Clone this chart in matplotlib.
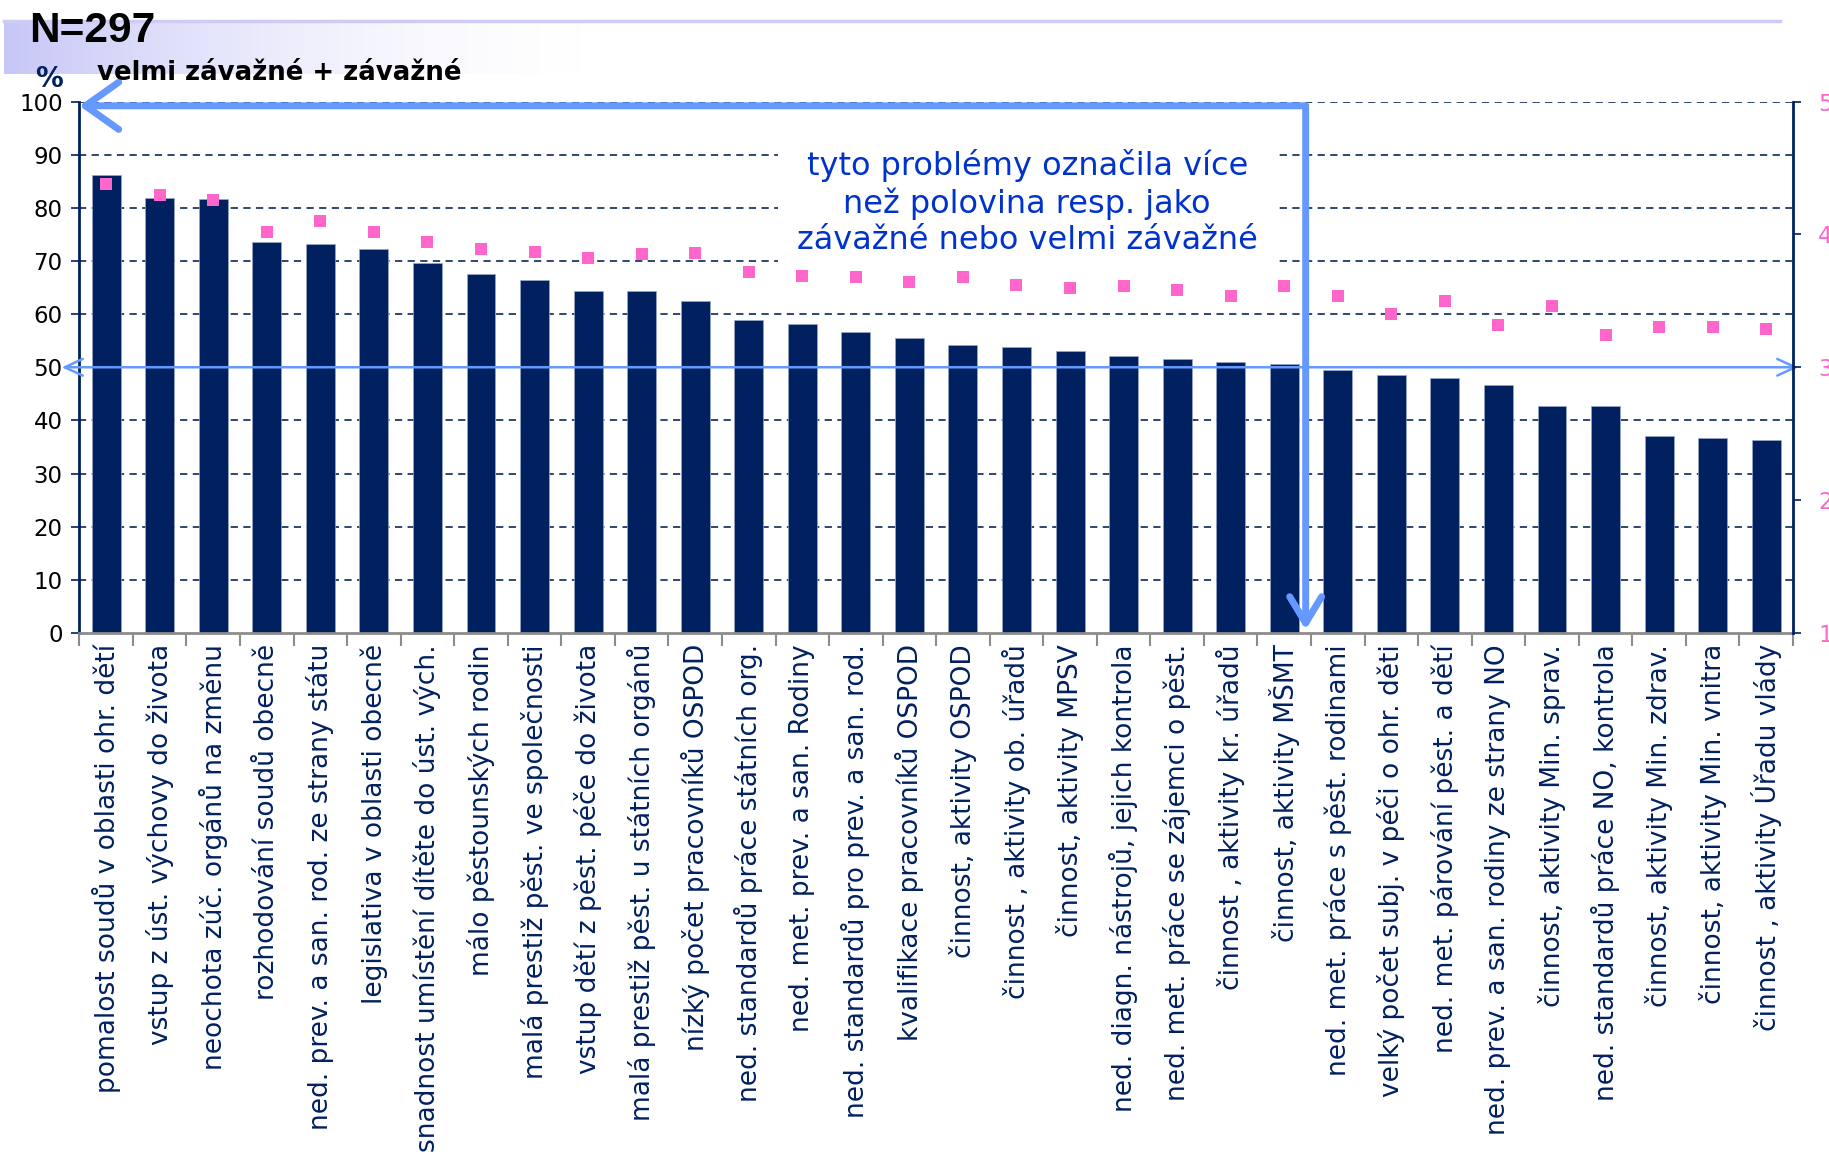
import matplotlib.pyplot as plt
import numpy as np

# --- data ---
categories = [
    'pomalost soudů v oblasti ohr. dětí',
    'vstup z úst. výchovy do života',
    'neochota zúč. orgánů na změnu',
    'rozhodování soudů obecně',
    'ned. prev. a san. rod. ze strany státu',
    'legislativa v oblasti obecně',
    'snadnost umístění dítěte do úst. vých.',
    'málo pěstounských rodin',
    'malá prestiž pěst. ve společnosti',
    'vstup dětí z pěst. péče do života',
    'malá prestiž pěst. u státních orgánů',
    'nízký počet pracovníků OSPOD',
    'ned. standardů práce státních org.',
    'ned. met. prev. a san. Rodiny',
    'ned. standardů pro prev. a san. rod.',
    'kvalifikace pracovníků OSPOD',
    'činnost, aktivity OSPOD',
    'činnost , aktivity ob. úřadů',
    'činnost, aktivity MPSV',
    'ned. diagn. nástrojů, jejich kontrola',
    'ned. met. práce se zájemci o pěst.',
    'činnost , aktivity kr. úřadů',
    'činnost, aktivity MŠMT',
    'ned. met. práce s pěst. rodinami',
    'velký počet subj. v péči o ohr. děti',
    'ned. met. párování pěst. a dětí',
    'ned. prev. a san. rodiny ze strany NO',
    'činnost, aktivity Min. sprav.',
    'ned. standardů práce NO, kontrola',
    'činnost, aktivity Min. zdrav.',
    'činnost, aktivity Min. vnitra',
    'činnost , aktivity Úřadu vlády',
]

# % "velmi závažné + závažné" (left axis)
pct_serious = [86.1, 81.9, 81.6, 73.5, 73.2, 72.3, 69.6, 67.5, 66.5, 64.4, 64.4,
               62.4, 58.8, 58.2, 56.7, 55.5, 54.2, 53.9, 53.1, 52.2, 51.6, 50.9,
               50.6, 49.4, 48.5, 47.9, 46.6, 42.7, 42.7, 37.0, 36.7, 36.4]

# mean score 1-5 (right axis)
mean_score = [4.38, 4.30, 4.26, 4.02, 4.10, 4.02, 3.94, 3.89, 3.87, 3.82, 3.85,
              3.86, 3.72, 3.69, 3.68, 3.64, 3.68, 3.62, 3.60, 3.61, 3.58, 3.54,
              3.61, 3.54, 3.40, 3.50, 3.32, 3.46, 3.24, 3.30, 3.30, 3.29]

left_ticks = list(range(0, 101, 10))
right_ticks = [1, 2, 3, 4, 5]

# --- colours ---
navy = '#002060'
pink = '#FF66CC'
arrow_blue = '#6699FF'
note_blue = '#0033CC'
grey = '#8C8C8C'

fig = plt.figure(figsize=(18.29, 11.58), dpi=100, facecolor='white')

# header band with fading purple
band = fig.add_axes([0.002, 0.936, 0.6, 0.046])
grad = np.clip(1 - np.linspace(0, 1, 600) / 0.55, 0, 1) ** 1.8
rgba = np.zeros((1, 600, 4))
rgba[..., 0] = 0.78
rgba[..., 1] = 0.78
rgba[..., 2] = 0.97
rgba[..., 3] = grad
band.imshow(rgba, aspect='auto', extent=[0, 1, 0, 1])
band.axis('off')
fig.add_artist(plt.Line2D([0.002, 0.973], [0.982, 0.982], color='#CCCCF5', lw=2.5))

fig.text(0.016, 0.9637, 'N=297', family='Liberation Sans', fontweight='bold',
         fontsize=30.5, color='black', va='baseline')
fig.text(0.027, 0.925, '%', fontweight='bold', fontsize=20, color=navy,
         ha='center', va='baseline')
fig.text(0.053, 0.931, 'velmi závažné + závažné', fontweight='bold',
         fontsize=18.7, color='black', va='baseline')

ax = fig.add_axes([0.0434, 0.4534, 0.9369, 0.4589])
x = np.arange(len(categories))

ax.set_axisbelow(True)
for v in left_ticks[1:]:
    if v == 50:
        continue
    ax.axhline(v, color='#1F3864', lw=1.3, ls=(0, (4, 3)), zorder=0.5)

ax.bar(x, pct_serious, width=0.54, color=navy, edgecolor='#9AA8C8',
       linewidth=0.5, zorder=2)

ax.set_xlim(-0.5, len(categories) - 0.5)
ax.set_ylim(0, 100)
ax.set_yticks(left_ticks)
ax.tick_params(axis='y', labelsize=16.5, colors='black', length=6, width=1.2,
               pad=6)
ax.tick_params(axis='y', color=navy)
ax.set_xticks(x)
ax.set_xticklabels(categories, rotation=90, fontsize=19, color=navy)
ax.set_xticks(np.arange(-0.5, len(categories)), minor=True)
ax.tick_params(axis='x', which='major', length=0, pad=8)
ax.tick_params(axis='x', which='minor', length=9, width=1.5, color=grey)

ax.spines['top'].set_visible(False)
ax.spines['right'].set_visible(False)
ax.spines['left'].set_color(navy)
ax.spines['left'].set_linewidth(2)
ax.spines['bottom'].set_color(grey)
ax.spines['bottom'].set_linewidth(2)

# right axis: mean score
ax2 = ax.twinx()
ax2.set_ylim(1, 5)
ax2.set_yticks(right_ticks)
ax2.tick_params(axis='y', labelsize=16.5, labelcolor=pink, color=navy,
                length=6, width=1.2, pad=12)
for s in ['top', 'left', 'bottom']:
    ax2.spines[s].set_visible(False)
ax2.spines['right'].set_color(navy)
ax2.spines['right'].set_linewidth(2)
ax2.plot(x, mean_score, ls='none', marker='s', ms=9, color=pink,
         markeredgewidth=0, zorder=4)

# 50 % reference line with arrowheads
ax.annotate('', xy=(-0.83, 50), xytext=(31.6, 50),
            arrowprops=dict(arrowstyle='<->,head_length=1.3,head_width=0.6',
                            color=arrow_blue, lw=1.8, shrinkA=0, shrinkB=0),
            annotation_clip=False, zorder=3)

# note
ax.text(17.2, 81, 'tyto problémy označila více\nnež polovina resp. jako\n'
        'závažné nebo velmi závažné', ha='center', va='center', fontsize=23,
        linespacing=1.2, color=note_blue, zorder=3,
        bbox=dict(boxstyle='square,pad=0.6', fc='white', ec='none'))

# big bracket arrow
corner = (22.4, 99.2)
left_kw = dict(arrowstyle='->,head_length=2.4,head_width=1.7', color=arrow_blue,
               lw=5, shrinkA=0, shrinkB=0, capstyle='round', joinstyle='round')
down_kw = dict(arrowstyle='->,head_length=1.9,head_width=1.15', color=arrow_blue,
               lw=5, shrinkA=0, shrinkB=0, capstyle='round', joinstyle='round')
ax.annotate('', xy=(-0.5, 99.2), xytext=corner, arrowprops=left_kw,
            annotation_clip=False, zorder=5)
ax.annotate('', xy=(22.4, 0.6), xytext=corner, arrowprops=down_kw,
            annotation_clip=False, zorder=5)

fig.savefig('out.png', dpi=100, facecolor='white')
